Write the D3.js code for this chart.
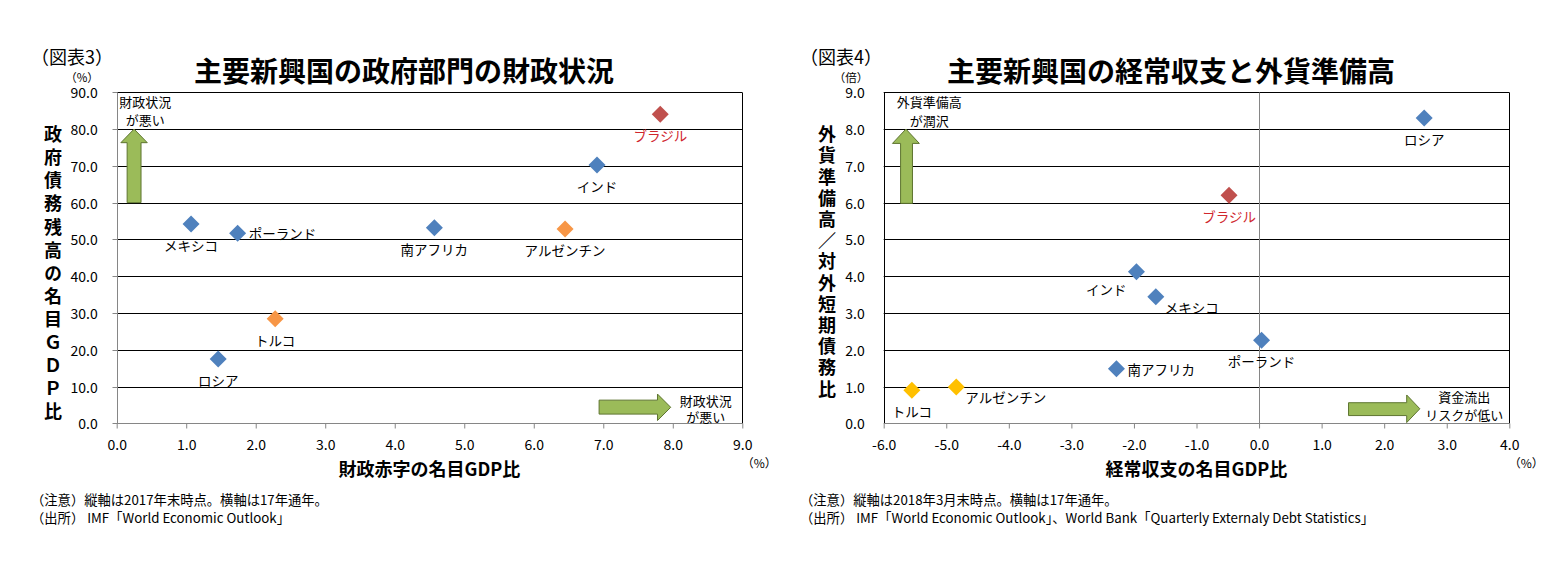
<!DOCTYPE html>
<html><head><meta charset="utf-8">
<script src="https://cdn.jsdelivr.net/npm/d3@7"></script>
<style>
body{margin:0;background:#fff;}
svg text{font-family:"Noto Sans CJK JP","Liberation Sans",sans-serif;}
</style></head><body>
<svg id="c" width="1563" height="573"></svg>
<script>
// ---------- Chart 3 data ----------
const c3Countries = ["ブラジル","インド","南アフリカ","アルゼンチン","メキシコ","ポーランド","トルコ","ロシア"];
const c3Deficit   = [7.82, 6.91, 4.57, 6.45, 1.07, 1.74, 2.28, 1.46];   // x: 財政赤字の名目GDP比
const c3Debt      = [84.0, 70.2, 53.2, 52.8, 54.2, 51.7, 28.4, 17.5];   // y: 政府債務残高の名目GDP比
const c3Colors    = ["#C0504D","#4F81BD","#4F81BD","#F79646","#4F81BD","#4F81BD","#F79646","#4F81BD"];
const c3LabelPos  = ["below","below","below","below","below","right","below","below"];
const c3XTicks    = [0,1,2,3,4,5,6,7,8,9];
const c3YTicks    = [0,10,20,30,40,50,60,70,80,90];

// ---------- Chart 4 data ----------
const c4Countries = ["ロシア","ブラジル","インド","メキシコ","南アフリカ","ポーランド","アルゼンチン","トルコ"];
const c4Current   = [2.64, -0.48, -1.96, -1.65, -2.28, 0.04, -4.84, -5.55]; // x: 経常収支の名目GDP比
const c4Reserve   = [8.30, 6.20, 4.12, 3.44, 1.48, 2.26, 0.99, 0.90];       // y: 外貨準備高／対外短期債務比
const c4Colors    = ["#4F81BD","#C0504D","#4F81BD","#4F81BD","#4F81BD","#4F81BD","#FFC000","#FFC000"];
const c4LabelPos  = ["below","below","belowleft","belowright","right","below","belowright","below"];
const c4XTicks    = [-6,-5,-4,-3,-2,-1,0,1,2,3,4];
const c4YTicks    = [0,1,2,3,4,5,6,7,8,9];

const svg = d3.select("#c");
const fmt = d => d3.format(".1f")(d).replace("\u2212", "-");

function drawChart(cfg){
  const g = svg.append("g");
  const x = d3.scaleLinear().domain(cfg.xDomain).range([cfg.x0, cfg.x1]);
  const y = d3.scaleLinear().domain(cfg.yDomain).range([cfg.y1, cfg.y0]);
  const axisGray = "#868686";

  // figure number & title
  g.append("text").attr("x", cfg.figX).attr("y", 56).attr("dominant-baseline","central")
    .attr("font-size", 18).attr("fill","#000").text(cfg.fig);
  g.append("text").attr("x", cfg.titleX).attr("y", 70).attr("dominant-baseline","central")
    .attr("text-anchor","middle").attr("font-size", 28).attr("font-weight","bold").attr("fill","#000").text(cfg.title);

  // gridlines
  g.append("g").selectAll("line").data(cfg.yTicks.filter(d => d !== cfg.yDomain[0])).join("line")
    .attr("x1", cfg.x0).attr("x2", cfg.x1)
    .attr("y1", d => Math.round(y(d)) + 0.5).attr("y2", d => Math.round(y(d)) + 0.5)
    .attr("stroke", "#000").attr("stroke-width", 1);

  // borders
  const rx = Math.round(cfg.x1) + 0.5, lx = Math.round(cfg.x0) + 0.5, by = Math.round(cfg.y1) + 0.5, ty = Math.round(cfg.y0) + 0.5;
  g.append("line").attr("x1", rx).attr("x2", rx).attr("y1", ty).attr("y2", by).attr("stroke", "#000");
  if (cfg.yAxisAt !== null) {
    g.append("line").attr("x1", lx).attr("x2", lx).attr("y1", ty).attr("y2", by).attr("stroke", "#000");
  }

  // x axis
  const xa = d3.axisBottom(x).tickValues(cfg.xTicks).tickSize(5).tickFormat(fmt);
  const xg = g.append("g").attr("transform", `translate(0,${by})`).call(xa);
  xg.select(".domain").attr("stroke", axisGray).attr("d", `M${cfg.x0},0H${cfg.x1}`);
  xg.selectAll(".tick line").attr("stroke", axisGray);
  xg.selectAll(".tick text").attr("font-size", 14).attr("fill", "#000").attr("y", 17)
    .attr("font-family", "'Liberation Sans',sans-serif").attr("dy", "0.71em");

  // y axis line (gray)
  if (cfg.yAxisAt !== null) {
    const ax = Math.round(x(cfg.yAxisAt)) + 0.5;
    g.append("line").attr("x1", ax).attr("x2", ax).attr("y1", ty).attr("y2", by).attr("stroke", axisGray);
  } else {
    g.append("line").attr("x1", lx).attr("x2", lx).attr("y1", ty).attr("y2", by).attr("stroke", axisGray);
    g.append("g").selectAll("line").data(cfg.yTicks).join("line")
      .attr("x1", lx - 5).attr("x2", lx)
      .attr("y1", d => Math.round(y(d)) + 0.5).attr("y2", d => Math.round(y(d)) + 0.5)
      .attr("stroke", axisGray);
  }
  // y tick labels
  g.append("g").selectAll("text").data(cfg.yTicks).join("text")
    .attr("x", cfg.x0 - 19).attr("y", d => y(d)).attr("text-anchor","end").attr("dominant-baseline","central")
    .attr("font-size", 14).attr("font-family","'Liberation Sans',sans-serif").attr("fill","#000")
    .text(fmt);

  // units
  g.append("text").attr("x", cfg.yUnitX).attr("y", 77).attr("text-anchor","middle").attr("dominant-baseline","central")
    .attr("font-size", 11.5).text(cfg.yUnit);
  g.append("text").attr("x", cfg.x1 + 17).attr("y", 462).attr("text-anchor","middle").attr("dominant-baseline","central")
    .attr("font-size", 12).text("（%）");

  // axis titles
  g.append("text").attr("x", (cfg.x0 + cfg.x1) / 2).attr("y", 468).attr("text-anchor","middle").attr("dominant-baseline","central")
    .attr("font-size", 18).attr("font-weight","bold").text(cfg.xTitle);
  g.append("text")
    .attr("x", cfg.yTitleX).attr("y", 134.3 - 9)
    .style("writing-mode", "vertical-rl").style("text-orientation", "upright")
    .attr("letter-spacing", cfg.yTitleStep - 18)
    .attr("font-size", 18).attr("font-weight","bold").text(cfg.yTitle);

  // annotation arrows
  const arrowFill = "#9BBB59", arrowStroke = "#5E7530";
  const up = cfg.upArrow;
  g.append("path").attr("d",
      `M${x(up.sx[0])},${y(up.base)}V${y(up.headBase)}H${x(up.hx[0])}L${(x(up.hx[0]) + x(up.hx[1])) / 2},${y(up.tip)}L${x(up.hx[1])},${y(up.headBase)}H${x(up.sx[1])}V${y(up.base)}Z`)
    .attr("fill", arrowFill).attr("stroke", arrowStroke).attr("stroke-width", 1);
  const rt = cfg.rightArrow;
  g.append("path").attr("d",
      `M${x(rt.start)},${y(rt.sy[0])}H${x(rt.headBase)}V${y(rt.hy[0])}L${x(rt.tip)},${(y(rt.hy[0]) + y(rt.hy[1])) / 2}L${x(rt.headBase)},${y(rt.hy[1])}V${y(rt.sy[1])}H${x(rt.start)}Z`)
    .attr("fill", arrowFill).attr("stroke", arrowStroke).attr("stroke-width", 1);
  cfg.notes.forEach(n => {
    g.append("text").attr("x", x(n.x)).attr("y", y(n.y)).attr("text-anchor","middle").attr("dominant-baseline","central")
      .attr("font-size", 13).text(n.t);
  });

  // points
  const pts = cfg.names.map((n, i) => ({n, x: cfg.xs[i], y: cfg.ys[i], c: cfg.colors[i], p: cfg.pos[i]}));
  const r = 8.5;
  g.append("g").selectAll("path").data(pts).join("path")
    .attr("transform", d => `translate(${x(d.x)},${y(d.y)})`)
    .attr("d", `M0,${-r}L${r},0L0,${r}L${-r},0Z`).attr("fill", d => d.c);

  // labels
  g.append("g").selectAll("text").data(pts).join("text")
    .attr("x", d => {
      const px = x(d.x);
      if (d.p === "right") return px + 11;
      if (d.p === "belowright") return px + 9;
      if (d.p === "belowleft") return px - 10;
      return px;
    })
    .attr("y", d => {
      const py = y(d.y);
      if (d.p === "right") return py;
      if (d.p === "belowright") return py + 10;
      if (d.p === "belowleft") return py + 17;
      return py + 21;
    })
    .attr("text-anchor", d => d.p === "below" ? "middle" : (d.p === "belowleft" ? "end" : "start"))
    .attr("dominant-baseline","central").attr("font-size", 13.5)
    .attr("fill", d => d.c === "#C0504D" ? "#D0262D" : "#000").text(d => d.n);

  // footnotes
  cfg.foot.forEach((t, i) => {
    g.append("text").attr("x", cfg.footX).attr("y", 499 + i * 18).attr("dominant-baseline","central")
      .attr("font-size", 13.3).text(t);
  });
}

drawChart({
  fig: "（図表3）", figX: 31, title: "主要新興国の政府部門の財政状況", titleX: 404,
  x0: 116.7, x1: 742.3, y0: 92.3, y1: 423.3,
  xDomain: [0, 9], yDomain: [0, 90], xTicks: c3XTicks, yTicks: c3YTicks,
  yAxisAt: null, yUnit: "（%）", yUnitX: 82,
  xTitle: "財政赤字の名目GDP比", yTitle: "政府債務残高の名目ＧＤＰ比", yTitleX: 53, yTitleStep: 23.1,
  names: c3Countries, xs: c3Deficit, ys: c3Debt, colors: c3Colors, pos: c3LabelPos,
  upArrow: {sx: [0.15, 0.35], hx: [0.06, 0.44], base: 60, headBase: 76.3, tip: 80},
  rightArrow: {start: 6.94, headBase: 7.78, tip: 7.97, sy: [6.3, 2.5], hy: [7.95, 0.75]},
  notes: [{x: 0.41, y: 87.6, t: "財政状況"}, {x: 0.41, y: 82.5, t: "が悪い"},
          {x: 8.475, y: 6.3, t: "財政状況"}, {x: 8.475, y: 1.8, t: "が悪い"}],
  footX: 31,
  foot: ["（注意）縦軸は2017年末時点。横軸は17年通年。", "（出所） IMF「World Economic Outlook」"]
});

drawChart({
  fig: "（図表4）", figX: 800, title: "主要新興国の経常収支と外貨準備高", titleX: 1171,
  x0: 883.7, x1: 1509.3, y0: 92.3, y1: 423.3,
  xDomain: [-6, 4], yDomain: [0, 9], xTicks: c4XTicks, yTicks: c4YTicks,
  yAxisAt: 0, yUnit: "（倍）", yUnitX: 851,
  xTitle: "経常収支の名目GDP比", yTitle: "外貨準備高／対外短期債務比", yTitleX: 827, yTitleStep: 21.2,
  names: c4Countries, xs: c4Current, ys: c4Reserve, colors: c4Colors, pos: c4LabelPos,
  upArrow: {sx: [-5.73, -5.54], hx: [-5.86, -5.43], base: 5.98, headBase: 7.61, tip: 8.0},
  rightArrow: {start: 1.43, headBase: 2.36, tip: 2.57, sy: [0.56, 0.21], hy: [0.77, 0.02]},
  notes: [{x: -5.27, y: 8.74, t: "外貨準備高"}, {x: -5.27, y: 8.23, t: "が潤沢"},
          {x: 3.28, y: 0.72, t: "資金流出"}, {x: 3.28, y: 0.245, t: "リスクが低い"}],
  footX: 800,
  foot: ["（注意）縦軸は2018年3月末時点。横軸は17年通年。", "（出所） IMF「World Economic Outlook」、World Bank「Quarterly Externaly Debt Statistics」"]
});
</script>
</body></html>
